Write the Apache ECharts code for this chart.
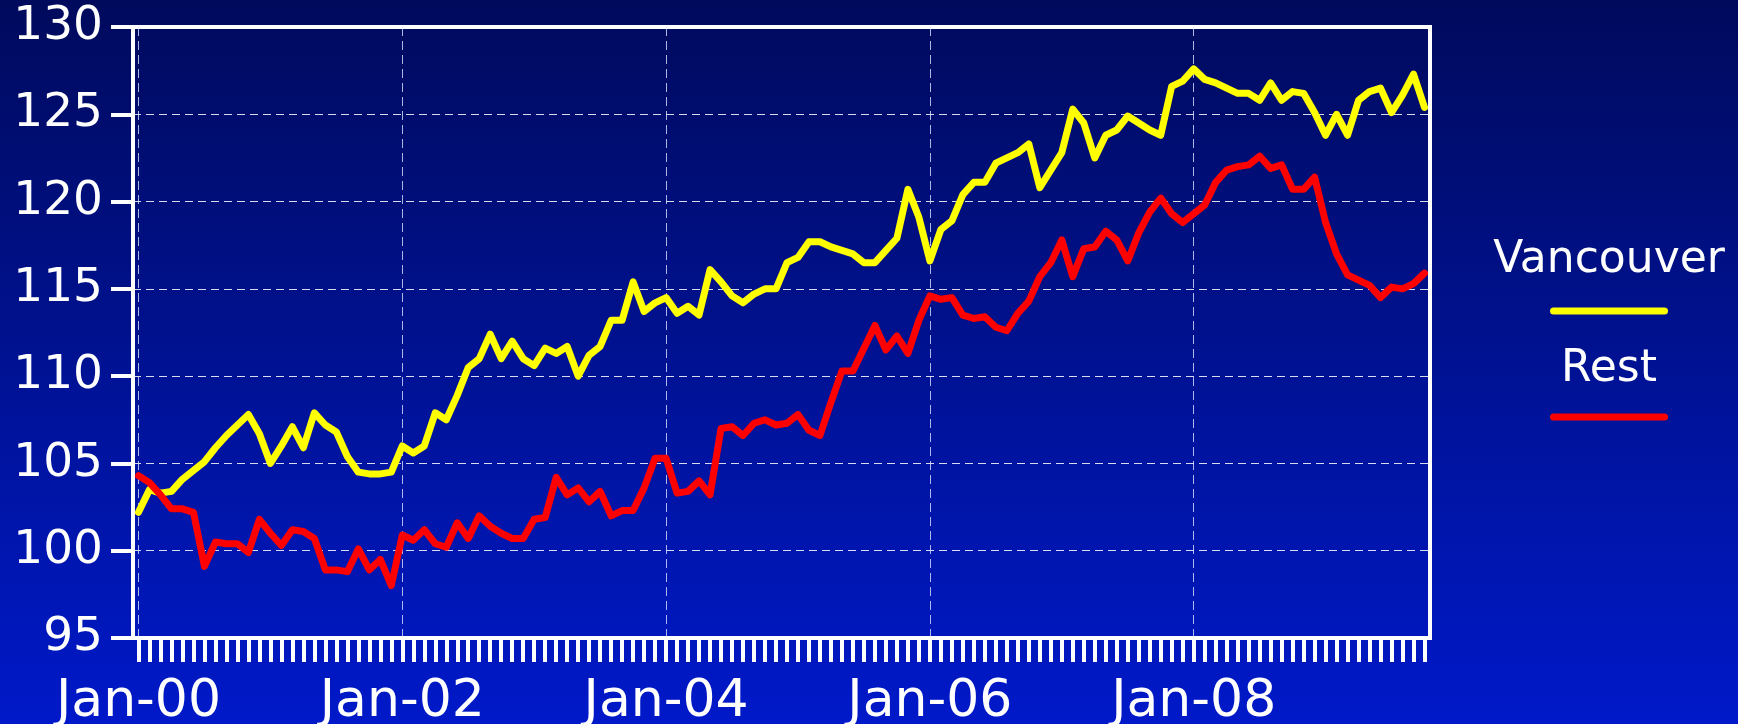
<!DOCTYPE html>
<html>
<head>
<meta charset="utf-8">
<title>Vancouver vs Rest</title>
<script src="https://cdn.jsdelivr.net/npm/echarts@6.0.0/dist/echarts.min.js"></script>
<style>
    html, body { margin: 0; padding: 0; }
    #chart { width: 1738px; height: 724px; }
</style>
</head>
<body>
<div id="chart"></div>
<script>
// monthly index values, Jan-00 .. Oct-09
const monthNames = ['Jan', 'Feb', 'Mar', 'Apr', 'May', 'Jun', 'Jul', 'Aug', 'Sep', 'Oct', 'Nov', 'Dec'];
const firstYear = 2000;
const monthCount = 118;

const vancouver = [
    102.2, 103.5, 103.3, 103.4, 104.1, 104.6, 105.1, 105.9, 106.6, 107.2, 107.8, 106.7,
    105.0, 106.0, 107.1, 105.9, 107.9, 107.2, 106.8, 105.4, 104.5, 104.4, 104.4, 104.5,
    106.0, 105.6, 106.0, 107.9, 107.5, 108.9, 110.5, 111.0, 112.4, 111.0, 112.0, 111.0,
    110.6, 111.6, 111.3, 111.7, 110.0, 111.2, 111.7, 113.2, 113.2, 115.4, 113.7, 114.2,
    114.5, 113.6, 114.0, 113.5, 116.1, 115.4, 114.6, 114.2, 114.7, 115.0, 115.0, 116.5,
    116.8, 117.7, 117.7, 117.4, 117.2, 117.0, 116.5, 116.5, 117.2, 117.9, 120.7, 119.1,
    116.6, 118.4, 118.9, 120.4, 121.1, 121.1, 122.2, 122.5, 122.8, 123.3, 120.8, 121.8,
    122.8, 125.3, 124.5, 122.5, 123.8, 124.1, 124.9, 124.5, 124.1, 123.8, 126.6, 126.9,
    127.6, 127.0, 126.8, 126.5, 126.2, 126.2, 125.8, 126.8, 125.8, 126.3, 126.2, 125.1,
    123.8, 125.0, 123.8, 125.8, 126.3, 126.5, 125.1, 126.1, 127.3, 125.4
];

const rest = [
    104.3, 103.9, 103.2, 102.4, 102.4, 102.2, 99.1, 100.5, 100.4, 100.4, 99.9, 101.8,
    101.0, 100.3, 101.2, 101.1, 100.7, 98.9, 98.9, 98.8, 100.1, 98.9, 99.5, 98.0,
    100.9, 100.6, 101.2, 100.4, 100.2, 101.6, 100.7, 102.0, 101.4, 101.0, 100.7, 100.7,
    101.8, 101.9, 104.2, 103.2, 103.6, 102.8, 103.4, 102.0, 102.3, 102.3, 103.6, 105.3,
    105.3, 103.3, 103.4, 104.0, 103.2, 107.0, 107.1, 106.6, 107.3, 107.5, 107.2, 107.3,
    107.8, 106.9, 106.6, 108.5, 110.3, 110.3, 111.6, 112.9, 111.5, 112.3, 111.3, 113.2,
    114.6, 114.4, 114.5, 113.5, 113.3, 113.4, 112.8, 112.6, 113.6, 114.3, 115.7, 116.5,
    117.8, 115.7, 117.3, 117.4, 118.3, 117.8, 116.6, 118.2, 119.4, 120.2, 119.3, 118.8,
    119.3, 119.8, 121.1, 121.8, 122.0, 122.1, 122.6, 121.9, 122.1, 120.7, 120.7, 121.4,
    118.8, 117.0, 115.8, 115.5, 115.2, 114.5, 115.1, 115.0, 115.3, 115.9
];

const seriesNames = ['Vancouver', 'Rest'];
const seriesColors = ['#ffff00', '#ff0000'];
const yMin = 95;
const yMax = 130;
const yStep = 5;

function buildCategories() {
    const cats = [];
    for (let i = 0; i < monthCount; i++) {
        const year = firstYear + Math.floor(i / 12);
        cats.push(monthNames[i % 12] + '-' + String(year % 100).padStart(2, '0'));
    }
    return cats;
}

function renderChart(chartDivId) {
    const font = 'DejaVu Sans';
    const chart = echarts.init(document.getElementById(chartDivId));
    const capsule = 'path://M3.5,0H114.5A3.5,3.5,0,0,1,114.5,7H3.5A3.5,3.5,0,0,1,3.5,0Z';

    const options = {
        animation: false,
        backgroundColor: new echarts.graphic.LinearGradient(0, 0, 0, 1, [
            { offset: 0, color: '#000a5c' },
            { offset: 1, color: '#0019c9' }
        ]),
        grid: {
            left: 133,
            right: 308,
            top: 27,
            bottom: 86,
            show: true,
            borderColor: '#ffffff',
            borderWidth: 4,
            backgroundColor: 'transparent',
            containLabel: false,
            outerBoundsMode: 'none'
        },
        legend: [
            {
                // names, centred above the swatches
                orient: 'vertical',
                left: 1479,
                top: 234,
                icon: 'none',
                itemWidth: 0,
                itemHeight: 42,
                itemGap: 65,
                selectedMode: false,
                data: seriesNames,
                formatter: '{t|{name}}',
                textStyle: {
                    rich: {
                        t: { width: 240, align: 'center', color: '#ffffff', fontSize: 44, lineHeight: 42, fontFamily: font }
                    }
                }
            },
            {
                // line swatches
                orient: 'vertical',
                left: 1545,
                top: 302.5,
                icon: capsule,
                itemWidth: 118,
                itemHeight: 7,
                itemGap: 99,
                selectedMode: false,
                itemStyle: { borderWidth: 0 },
                data: seriesNames,
                formatter: function () { return ''; },
                textStyle: { fontSize: 7, lineHeight: 7 }
            }
        ],
        xAxis: {
            type: 'category',
            data: buildCategories(),
            boundaryGap: true,
            axisLine: { show: true, lineStyle: { color: '#ffffff', width: 4 } },
            axisTick: {
                show: true,
                interval: 0,
                alignWithLabel: true,
                length: 24,
                lineStyle: { color: '#ffffff', width: 4 }
            },
            axisLabel: { interval: 23, color: '#ffffff', fontFamily: font, fontSize: 52, margin: 38 },
            splitLine: {
                show: true,
                interval: 23,
                alignWithLabel: true,
                lineStyle: { color: 'rgba(220,225,255,0.8)', width: 1, type: [9, 5] }
            }
        },
        yAxis: {
            type: 'value',
            min: yMin,
            max: yMax,
            interval: yStep,
            axisLine: { show: true, lineStyle: { color: '#ffffff', width: 4 } },
            axisTick: { show: true, length: 22, lineStyle: { color: '#ffffff', width: 4 } },
            axisLabel: { color: '#ffffff', fontFamily: font, fontSize: 47, margin: 30 },
            splitLine: {
                show: true,
                lineStyle: { color: 'rgba(255,255,255,0.85)', width: 1, type: [8, 5] }
            }
        },
        series: [vancouver, rest].map(function (values, i) {
            return {
                name: seriesNames[i],
                type: 'line',
                data: values,
                showSymbol: false,
                color: seriesColors[i],
                lineStyle: { color: seriesColors[i], width: 7, join: 'round', cap: 'round' },
                z: 3 + i
            };
        })
    };
    chart.setOption(options);
}

renderChart('chart');
</script>
</body>
</html>
